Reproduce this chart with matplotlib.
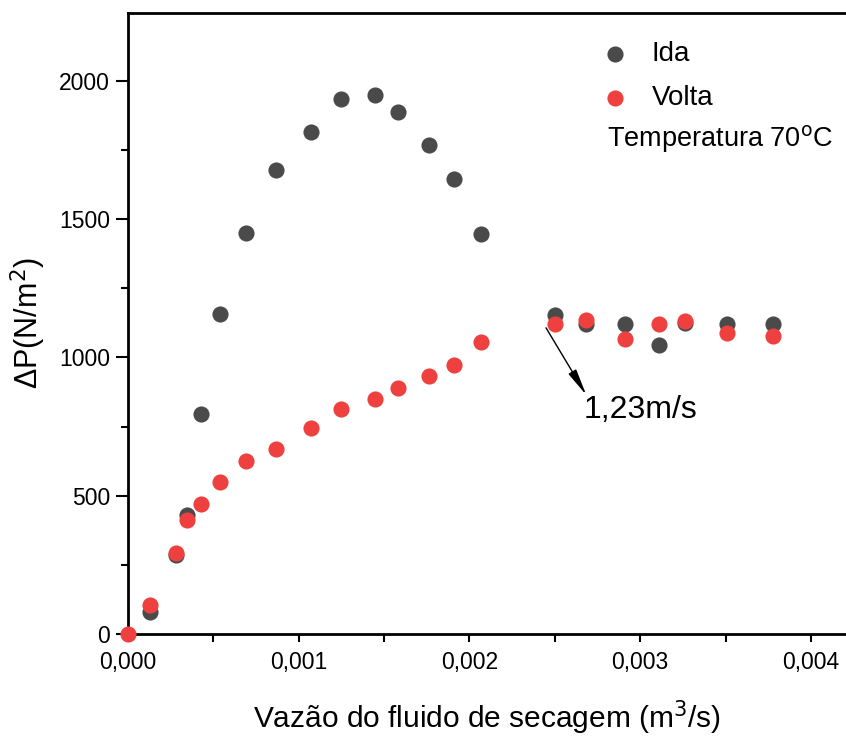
import matplotlib
matplotlib.use("Agg")
import matplotlib.pyplot as plt
from matplotlib.ticker import MultipleLocator, FuncFormatter

plt.rcParams['font.family'] = ['Liberation Sans', 'DejaVu Sans']

# Data
vazao_ida = [0.000127, 0.000281, 0.000345, 0.000425, 0.000537, 0.000689, 0.000866,
             0.001069, 0.001249, 0.001448, 0.001579, 0.00176, 0.001908, 0.00207,
             0.0025, 0.00268, 0.00291, 0.00311, 0.00326, 0.00351, 0.00378]
dp_ida = [79, 284, 429, 797, 1156, 1449, 1676, 1813, 1933, 1948, 1886, 1769, 1646, 1446,
          1154, 1120, 1120, 1043, 1124, 1122, 1122]

vazao_volta = [0.0, 0.000127, 0.000281, 0.000345, 0.000425, 0.000537, 0.000689, 0.000866,
               0.001069, 0.001249, 0.001448, 0.001579, 0.00176, 0.001908, 0.00207,
               0.0025, 0.00268, 0.00291, 0.00311, 0.00326, 0.00351, 0.00378]
dp_volta = [0, 106, 292, 412, 470, 549, 627, 668, 744, 815, 850, 890, 931, 973, 1055,
            1120, 1134, 1068, 1120, 1130, 1088, 1076]

x_ticks = [0.000, 0.001, 0.002, 0.003, 0.004]
y_ticks = [0, 500, 1000, 1500, 2000]

fig = plt.figure(figsize=(8.46, 7.36), dpi=100)
ax = fig.add_axes([128/846, 1 - 634/736, 1 - 128/846, (634 - 13)/736])

ax.scatter(vazao_ida, dp_ida, s=135, color='#4a4a4a', label='Ida', zorder=3, clip_on=False, linewidths=0)
ax.scatter(vazao_volta, dp_volta, s=135, color='#ef4040', label='Volta', zorder=4, clip_on=False, linewidths=0)

ax.set_xlim(0, 0.004205)
ax.set_ylim(0, 2245)
ax.set_xticks(x_ticks)
ax.set_yticks(y_ticks)
ax.xaxis.set_minor_locator(MultipleLocator(0.0005))
ax.yaxis.set_minor_locator(MultipleLocator(250))
ax.xaxis.set_major_formatter(FuncFormatter(lambda v, p: f"{v:.3f}".replace('.', ',')))
ax.tick_params(axis='both', which='major', direction='out', width=1.5, labelsize=16.5)
ax.tick_params(axis='x', which='both', length=6, pad=6)
ax.tick_params(axis='y', which='major', length=9, pad=4)
ax.tick_params(axis='y', which='minor', length=5, width=1.5)
ax.tick_params(axis='x', which='minor', width=1.5)
ax.spines['right'].set_visible(False)
for s in ['left', 'bottom', 'top']:
    ax.spines[s].set_linewidth(2)

ax.set_xlabel('Vazão do fluido de secagem (m$^3$/s)', fontsize=21.5, labelpad=18)
ax.set_ylabel('ΔP(N/m$^2$)', fontsize=22, labelpad=8)

leg = ax.legend(loc='upper left', bbox_to_anchor=(0.624, 0.995), frameon=False, fontsize=20,
                handlelength=1.0, handletextpad=0.83, labelspacing=0.65, markerscale=1.0)
ax.text(0.002805, 1790, 'Temperatura 70$^{\\mathrm{o}}$C', fontsize=19.5, va='center', ha='left')

ax.annotate('', xy=(0.002684, 864), xytext=(0.002448, 1107),
            arrowprops=dict(arrowstyle='-|>,head_width=0.15,head_length=0.9', color='black',
                            lw=1, mutation_scale=18, shrinkA=0, shrinkB=0))
ax.text(0.00267, 810, '1,23m/s', fontsize=23, va='center', ha='left')

fig.savefig('out.png', dpi=100)
